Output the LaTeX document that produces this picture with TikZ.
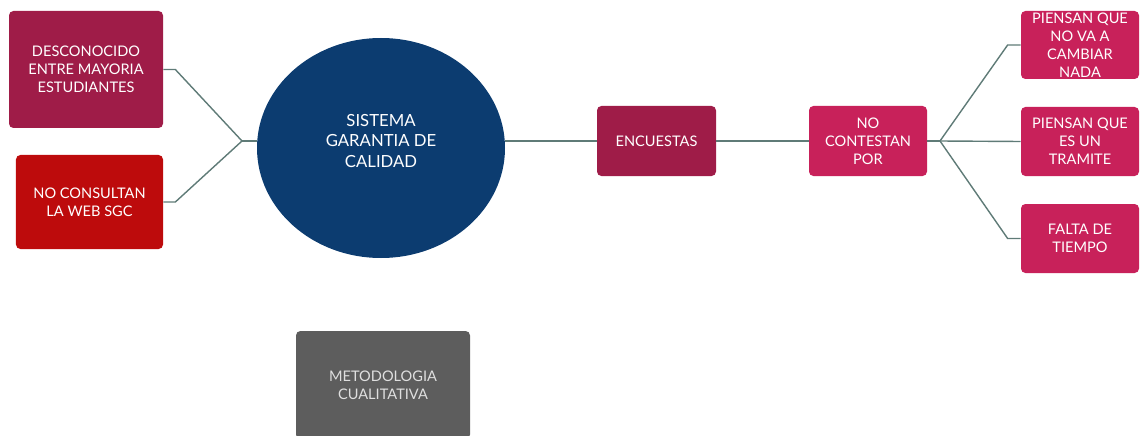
\documentclass[tikz,border=0pt]{standalone}
\usepackage{fontspec}
\setmainfont{Lato}
\usetikzlibrary{positioning,shapes.geometric}
\definecolor{vino}{HTML}{9F1C48}
\definecolor{rojo}{HTML}{BD0B0C}
\definecolor{rosa}{HTML}{C8215A}
\definecolor{azul}{HTML}{0C3C70}
\definecolor{gris}{HTML}{5D5D5D}
\definecolor{linea}{HTML}{5F7B77}
\tikzset{
  caja/.style={rectangle, rounded corners=2.5pt, fill=#1, text=white, align=center,
    inner sep=0pt, font=\fontsize{8.3}{10.2}\selectfont},
  enlace/.style={draw=linea, line width=0.8pt},
}

\begin{document}
\begin{tikzpicture}
\useasboundingbox (0,0) rectangle (22.8,-8.72);
\clip (0,0) rectangle (22.8,-8.72);
% left side
\node[caja=vino, minimum width=3.08cm, minimum height=2.34cm] (desc) at (1.72,-1.39)
  {DESCONOCIDO\\ENTRE MAYORIA\\ESTUDIANTES};
\node[caja=rojo, minimum width=2.94cm, minimum height=1.88cm] (cons) at (1.79,-4.04)
  {NO CONSULTAN\\LA WEB SGC};
\node[ellipse, fill=azul, minimum width=4.96cm, minimum height=4.40cm, inner sep=0pt,
  label={[text=white, align=center, yshift=0.14cm, font=\fontsize{9.5}{11.4}\selectfont]center:SISTEMA\\GARANTIA DE\\CALIDAD}]
  (sgc) at (7.62,-2.96) {};
% middle chain
\node[caja=vino, minimum width=2.38cm, minimum height=1.40cm] (enc) at (13.13,-2.82) {ENCUESTAS};
\node[caja=rosa, minimum width=2.36cm, minimum height=1.40cm] (noc) at (17.36,-2.82)
  {NO\\CONTESTAN\\POR};
% reasons
\node[caja=rosa, minimum width=2.36cm, minimum height=1.36cm] (cambiar) at (21.6,-0.90)
  {PIENSAN QUE\\NO VA A\\CAMBIAR\\NADA};
\node[caja=rosa, minimum width=2.36cm, minimum height=1.38cm] (tramite) at (21.6,-2.83)
  {PIENSAN QUE\\ES UN\\TRAMITE};
\node[caja=rosa, minimum width=2.36cm, minimum height=1.38cm] (tiempo) at (21.6,-4.77)
  {FALTA DE\\TIEMPO};
% bottom box
\node[caja=gris, text=gray!25, minimum width=3.48cm, minimum height=2.16cm] (metodo) at (7.66,-7.70)
  {METODOLOGIA\\CUALITATIVA};
%% connectors
\coordinate (nudoI) at (4.84,-2.82);
\coordinate (nudoD) at (18.8,-2.82);
\draw[enlace] (desc.east) -- ++(0.24,0) -- (nudoI);
\draw[enlace] (cons.east) -- ++(0.24,0) -- (nudoI);
\draw[enlace] (nudoI) -- (nudoI -| sgc.west);
\draw[enlace] (enc.west -| sgc.east) -- (enc.west);
\draw[enlace] (enc.east) -- (noc.west);
\draw[enlace] (noc.east) -- (nudoD);
\draw[enlace] (nudoD) -- ([xshift=-0.26cm]cambiar.west) -- (cambiar.west);
\draw[enlace] (nudoD) -- (tramite.west);
\draw[enlace] (nudoD) -- ([xshift=-0.26cm]tiempo.west) -- (tiempo.west);
\end{tikzpicture}
\end{document}
